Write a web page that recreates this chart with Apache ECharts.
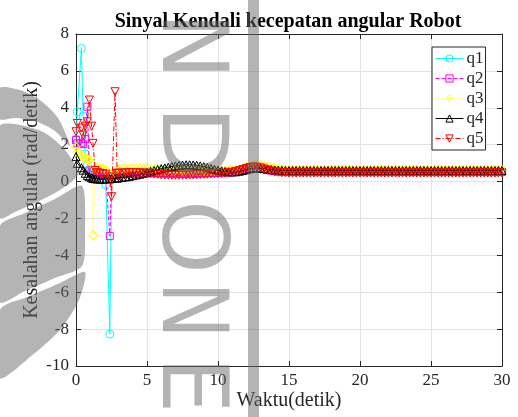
<!DOCTYPE html>
<html>
<head>
<meta charset="utf-8">
<script src="https://cdn.jsdelivr.net/npm/echarts@6/dist/echarts.min.js"></script>
<style>
  html, body { margin: 0; padding: 0; background: #fff; }
  #chart { width: 518px; height: 417px; }
</style>
</head>
<body>
<div id="chart"></div>
<script>
// Time samples (seconds): adaptive steps during the transient, then regular
const t = [
  0, 0.09, 0.38, 0.5, 0.65, 0.8, 0.94, 1.1, 1.2, 1.35, 1.5, 1.7, 1.9, 2.1, 2.38, 2.51, 2.75, 2.9,
  3, 3.25, 3.5, 3.75, 4, 4.25, 4.5, 4.75, 5, 5.25,
  5.5, 5.75, 6, 6.25, 6.5, 6.75, 7, 7.25, 7.5, 7.75,
  8, 8.25, 8.5, 8.75, 9, 9.25, 9.5, 9.75, 10, 10.25,
  10.5, 10.75, 11, 11.25, 11.5, 11.75, 12, 12.25, 12.5, 12.75,
  13, 13.25, 13.5, 13.75, 14, 14.25, 14.5, 14.75, 15, 15.25,
  15.5, 15.75, 16, 16.25, 16.5, 16.75, 17, 17.25, 17.5, 17.75,
  18, 18.25, 18.5, 18.75, 19, 19.25, 19.5, 19.75, 20, 20.25,
  20.5, 20.75, 21, 21.25, 21.5, 21.75, 22, 22.25, 22.5, 22.75,
  23, 23.25, 23.5, 23.75, 24, 24.25, 24.5, 24.75, 25, 25.25,
  25.5, 25.75, 26, 26.25, 26.5, 26.75, 27, 27.25, 27.5, 27.75,
  28, 28.25, 28.5, 28.75, 29, 29.25, 29.5, 29.75, 30
];

// Joint angular control signals (rad/detik)
const q1 = [
  2.3, 3.78, 7.22, 3.55, 1.5, 0.9, 0.6, 0.55, 0.52, 0.5, 0.48, 0.45, 0.42, -0.19, -8.27, 0.3, 0.45, 0.5,
  0.50, 0.50, 0.51, 0.52, 0.52, 0.53, 0.54, 0.55, 0.55, 0.56,
  0.57, 0.58, 0.59, 0.60, 0.60, 0.61, 0.61, 0.61, 0.61, 0.60,
  0.60, 0.59, 0.58, 0.57, 0.56, 0.55, 0.54, 0.53, 0.52, 0.52,
  0.51, 0.51, 0.52, 0.54, 0.57, 0.61, 0.65, 0.69, 0.71, 0.71,
  0.69, 0.67, 0.64, 0.62, 0.60, 0.59, 0.58, 0.57, 0.57, 0.57,
  0.57, 0.57, 0.57, 0.57, 0.57, 0.57, 0.57, 0.57, 0.57, 0.57,
  0.57, 0.57, 0.57, 0.57, 0.57, 0.57, 0.57, 0.57, 0.57, 0.57,
  0.57, 0.57, 0.57, 0.57, 0.57, 0.57, 0.57, 0.57, 0.57, 0.57,
  0.57, 0.57, 0.57, 0.57, 0.57, 0.57, 0.57, 0.57, 0.57, 0.57,
  0.57, 0.57, 0.57, 0.57, 0.57, 0.57, 0.57, 0.57, 0.57, 0.57,
  0.57, 0.57, 0.57, 0.57, 0.57, 0.57, 0.57, 0.57, 0.57
];
const q2 = [
  2.25, 2.07, 2.1, 2.03, 2.3, 4.06, 0.6, 0.5, 0.45, 0.4, 0.38, 0.36, 0.34, 0.32, -2.96, 0.2, 0.35, 0.4,
  0.40, 0.41, 0.42, 0.42, 0.43, 0.44, 0.44, 0.45, 0.45, 0.45,
  0.45, 0.45, 0.45, 0.44, 0.44, 0.44, 0.43, 0.43, 0.43, 0.43,
  0.43, 0.43, 0.44, 0.44, 0.45, 0.45, 0.46, 0.47, 0.47, 0.48,
  0.49, 0.50, 0.52, 0.55, 0.59, 0.63, 0.68, 0.72, 0.74, 0.74,
  0.71, 0.67, 0.63, 0.59, 0.56, 0.54, 0.53, 0.52, 0.52, 0.52,
  0.52, 0.52, 0.52, 0.52, 0.52, 0.52, 0.52, 0.52, 0.52, 0.52,
  0.52, 0.52, 0.52, 0.52, 0.52, 0.52, 0.52, 0.52, 0.52, 0.52,
  0.52, 0.52, 0.52, 0.52, 0.52, 0.52, 0.52, 0.52, 0.52, 0.52,
  0.52, 0.52, 0.52, 0.52, 0.52, 0.52, 0.52, 0.52, 0.52, 0.52,
  0.52, 0.52, 0.52, 0.52, 0.52, 0.52, 0.52, 0.52, 0.52, 0.52,
  0.52, 0.52, 0.52, 0.52, 0.52, 0.52, 0.52, 0.52, 0.52
];
const q3 = [
  1.88, 1.6, 1.45, 1.35, 1.3, 1.22, 1.17, 1.0, -2.92, 0.7, 0.72, 0.7, 0.68, 0.62, 0.4, 0.19, 0.5, 0.62,
  0.66, 0.68, 0.69, 0.70, 0.70, 0.70, 0.69, 0.69, 0.68, 0.68,
  0.67, 0.67, 0.66, 0.66, 0.65, 0.65, 0.64, 0.64, 0.63, 0.63,
  0.63, 0.62, 0.62, 0.61, 0.61, 0.60, 0.60, 0.59, 0.59, 0.59,
  0.59, 0.59, 0.60, 0.62, 0.66, 0.71, 0.77, 0.82, 0.86, 0.88,
  0.87, 0.84, 0.80, 0.75, 0.71, 0.68, 0.66, 0.64, 0.63, 0.62,
  0.62, 0.62, 0.62, 0.62, 0.62, 0.62, 0.62, 0.62, 0.62, 0.62,
  0.62, 0.62, 0.62, 0.62, 0.62, 0.62, 0.62, 0.62, 0.62, 0.62,
  0.62, 0.62, 0.62, 0.62, 0.62, 0.62, 0.62, 0.62, 0.62, 0.62,
  0.62, 0.62, 0.62, 0.62, 0.62, 0.62, 0.62, 0.62, 0.62, 0.62,
  0.62, 0.62, 0.62, 0.62, 0.62, 0.62, 0.62, 0.62, 0.62, 0.62,
  0.62, 0.62, 0.62, 0.62, 0.62, 0.62, 0.62, 0.62, 0.62
];
const q4 = [
  1.35, 0.99, 0.75, 0.62, 0.45, 0.32, 0.26, 0.2, 0.17, 0.15, 0.14, 0.13, 0.13, 0.14, 0.15, 0.16, 0.18, 0.19,
  0.20, 0.22, 0.25, 0.28, 0.32, 0.36, 0.40, 0.45, 0.50, 0.55,
  0.60, 0.65, 0.70, 0.74, 0.78, 0.82, 0.85, 0.88, 0.90, 0.91,
  0.91, 0.90, 0.88, 0.85, 0.81, 0.77, 0.72, 0.67, 0.62, 0.58,
  0.55, 0.53, 0.52, 0.53, 0.56, 0.60, 0.65, 0.70, 0.73, 0.74,
  0.72, 0.70, 0.67, 0.65, 0.63, 0.62, 0.61, 0.60, 0.60, 0.60,
  0.60, 0.60, 0.60, 0.60, 0.60, 0.60, 0.60, 0.60, 0.60, 0.60,
  0.60, 0.60, 0.60, 0.60, 0.60, 0.60, 0.60, 0.60, 0.60, 0.60,
  0.60, 0.60, 0.60, 0.60, 0.60, 0.60, 0.60, 0.60, 0.60, 0.60,
  0.60, 0.60, 0.60, 0.60, 0.60, 0.60, 0.60, 0.60, 0.60, 0.60,
  0.60, 0.60, 0.60, 0.60, 0.60, 0.60, 0.60, 0.60, 0.60, 0.60,
  0.60, 0.60, 0.60, 0.60, 0.60, 0.60, 0.60, 0.60, 0.60
];
const q5 = [
  2.7, 3.15, 2.9, 2.52, 3.0, 3.24, 4.42, 3.0, 2.07, 0.6, 0.5, 0.45, 0.42, 0.4, 0.25, -0.82, 4.87, 0.45,
  0.45, 0.46, 0.47, 0.48, 0.48, 0.48, 0.47, 0.46, 0.45, 0.43,
  0.41, 0.39, 0.37, 0.36, 0.35, 0.34, 0.34, 0.34, 0.34, 0.35,
  0.35, 0.36, 0.37, 0.38, 0.39, 0.40, 0.41, 0.42, 0.43, 0.44,
  0.45, 0.47, 0.50, 0.54, 0.59, 0.65, 0.71, 0.76, 0.79, 0.78,
  0.74, 0.68, 0.62, 0.57, 0.53, 0.50, 0.48, 0.47, 0.46, 0.46,
  0.46, 0.46, 0.46, 0.46, 0.46, 0.46, 0.46, 0.46, 0.46, 0.46,
  0.46, 0.46, 0.46, 0.46, 0.46, 0.46, 0.46, 0.46, 0.46, 0.46,
  0.46, 0.46, 0.46, 0.46, 0.46, 0.46, 0.46, 0.46, 0.46, 0.46,
  0.46, 0.46, 0.46, 0.46, 0.46, 0.46, 0.46, 0.46, 0.46, 0.46,
  0.46, 0.46, 0.46, 0.46, 0.46, 0.46, 0.46, 0.46, 0.46, 0.46,
  0.46, 0.46, 0.46, 0.46, 0.46, 0.46, 0.46, 0.46, 0.46
];

const seriesNames = ['q1', 'q2', 'q3', 'q4', 'q5'];
const xTicks = [0, 5, 10, 15, 20, 25, 30];
const yTicks = [-10, -8, -6, -4, -2, 0, 2, 4, 6, 8];

const SERIF = '"Liberation Serif", "Times New Roman", serif';
const INK = '#262626';
const WM = 'rgba(105,105,105,0.5)';

const styles = [
  { color: '#00ffff', symbol: 'circle', size: 8, rot: 0, line: 'solid' },
  { color: '#ff00ff', symbol: 'rect', size: 7, rot: 0, line: [4, 2] },
  { color: '#ffff00', symbol: 'diamond', size: [8, 9], rot: 0, line: [1, 2] },
  { color: '#000000', symbol: 'triangle', size: 8, rot: 0, line: 'solid' },
  { color: '#ff0000', symbol: 'triangle', size: 8, rot: 180, line: [5, 2, 1, 2] }
];
const values = [q1, q2, q3, q4, q5];

const series = seriesNames.map((name, k) => ({
  name,
  type: 'line',
  data: t.map((x, i) => [x, values[k][i]]),
  symbol: styles[k].symbol,
  symbolSize: styles[k].size,
  symbolRotate: styles[k].rot,
  showAllSymbol: true,
  lineStyle: { color: styles[k].color, width: 1, type: styles[k].line },
  itemStyle: { color: 'rgba(0,0,0,0)', borderColor: styles[k].color, borderWidth: 1 },
  emphasis: { disabled: true },
  animation: false,
  z: 2 + k
}));

// Background emblem lettering and swooshes
function letter(ch, x, y, sx) {
  return {
    type: 'text', x, y, rotation: -Math.PI / 2, scaleX: sx, z: 100, silent: true,
    style: { text: ch, fontSize: 90, fontFamily: '"DejaVu Sans", sans-serif', fill: WM, align: 'center', verticalAlign: 'middle' }
  };
}
function band(points) {
  return { type: 'polygon', z: 100, silent: true, shape: { points, smooth: 0.25 }, style: { fill: WM } };
}

const graphic = [
  letter('N', 186, 46, 1.0),
  letter('D', 186, 143, 1.08),
  letter('O', 186, 237, 1.05),
  letter('N', 186, 310, 0.85),
  letter('E', 186, 385, 1.0),
  { type: 'rect', z: 100, silent: true, shape: { x: 248, y: 0, width: 11, height: 417 }, style: { fill: WM } },
  band([[0, 88], [20, 90], [40, 100], [58, 118], [70, 146], [55, 131], [35, 121], [15, 118], [0, 119]]),
  band([[0, 126], [20, 125], [45, 133], [65, 150], [78, 174], [60, 190], [35, 203], [15, 212], [0, 218]]),
  band([[0, 226], [25, 213], [55, 199], [82, 186], [85, 230], [82, 266], [55, 278], [25, 291], [0, 302]]),
  band([[0, 310], [30, 296], [60, 283], [85, 272], [79, 300], [60, 330], [30, 357], [0, 378]])
];

const chart = echarts.init(document.getElementById('chart'), null, { renderer: 'canvas' });
chart.setOption({
  backgroundColor: '#fff',
  animation: false,
  title: {
    text: 'Sinyal Kendali kecepatan angular Robot',
    left: 283, top: 7, textAlign: 'center',
    textStyle: { fontFamily: SERIF, fontSize: 20, fontWeight: 'bold', color: '#000' }
  },
  grid: { left: 76, right: 16, top: 34, bottom: 51, containLabel: false },
  legend: {
    data: seriesNames,
    orient: 'vertical',
    left: 432, top: 47,
    itemWidth: 28, itemHeight: 9, itemGap: 3,
    padding: [3, 2, 3, 3],
    backgroundColor: '#fff',
    borderColor: INK, borderWidth: 1, borderRadius: 0,
    itemStyle: { color: 'rgba(0,0,0,0)', borderWidth: 1 },
    lineStyle: { width: 1 },
    textStyle: { fontFamily: SERIF, fontSize: 17, color: INK, width: 18, padding: [0, 0, 0, -2] },
    selectedMode: false
  },
  xAxis: [{
    type: 'value', min: xTicks[0], max: xTicks[xTicks.length - 1], interval: 5,
    name: 'Waktu(detik)', nameLocation: 'middle', nameGap: 25, nameMoveOverlap: false,
    nameTextStyle: { fontFamily: SERIF, fontSize: 20, color: INK },
    axisLine: { show: true, onZero: false, lineStyle: { color: INK, width: 1 } },
    axisTick: { show: true, inside: true, length: 5, lineStyle: { color: INK } },
    axisLabel: { fontFamily: SERIF, fontSize: 17, color: INK, margin: 6 },
    splitLine: { show: true, lineStyle: { color: '#e3e3e3', width: 1 } }
  }, {
    type: 'value', position: 'top', min: xTicks[0], max: xTicks[xTicks.length - 1], interval: 5,
    axisLine: { show: true, onZero: false, lineStyle: { color: INK, width: 1 } },
    axisTick: { show: true, inside: true, length: 5, lineStyle: { color: INK } },
    axisLabel: { show: false }, splitLine: { show: false }
  }],
  yAxis: [{
    type: 'value', min: yTicks[0], max: yTicks[yTicks.length - 1], interval: 2,
    name: 'Kesalahan angular (rad/detik)', nameLocation: 'middle', nameGap: 34, nameMoveOverlap: false,
    nameTextStyle: { fontFamily: SERIF, fontSize: 20, color: INK },
    axisLine: { show: true, onZero: false, lineStyle: { color: INK, width: 1 } },
    axisTick: { show: true, inside: true, length: 5, lineStyle: { color: INK } },
    axisLabel: { fontFamily: SERIF, fontSize: 17, color: INK, margin: 7 },
    splitLine: { show: true, lineStyle: { color: '#e3e3e3', width: 1 } }
  }, {
    type: 'value', position: 'right', min: yTicks[0], max: yTicks[yTicks.length - 1], interval: 2,
    axisLine: { show: true, onZero: false, lineStyle: { color: INK, width: 1 } },
    axisTick: { show: true, inside: true, length: 5, lineStyle: { color: INK } },
    axisLabel: { show: false }, splitLine: { show: false }
  }],
  series,
  graphic
});
</script>
</body>
</html>
